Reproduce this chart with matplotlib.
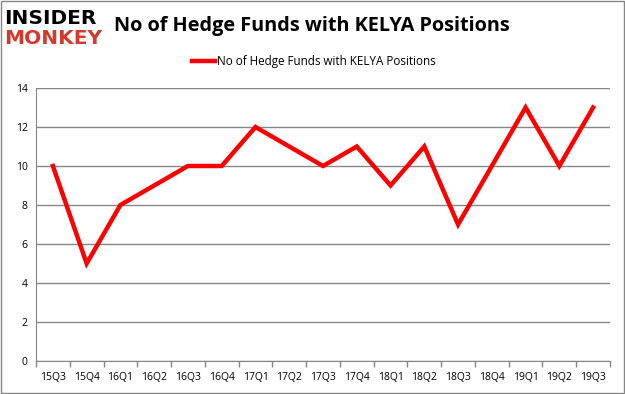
import matplotlib.pyplot as plt
from matplotlib.patches import Rectangle

# data
quarters = ["15Q3", "15Q4", "16Q1", "16Q2", "16Q3", "16Q4", "17Q1", "17Q2", "17Q3",
            "17Q4", "18Q1", "18Q2", "18Q3", "18Q4", "19Q1", "19Q2", "19Q3"]
funds = [10, 5, 8, 9, 10, 10, 12, 11, 10, 11, 9, 11, 7, 10, 13, 10, 13]
y_ticks = [0, 2, 4, 6, 8, 10, 12, 14]
series_name = "No of Hedge Funds with KELYA Positions"

plt.rcParams['font.family'] = ['Open Sans', 'DejaVu Sans']

fig = plt.figure(figsize=(6.25, 3.94), dpi=100)
ax = fig.add_axes([36 / 625, 1 - 361 / 394, 574 / 625, 273 / 394])

x = list(range(len(quarters)))
line, = ax.plot(x, funds, color="#ff0000", lw=3.2, solid_joinstyle="miter",
                label=series_name)

ax.set_xlim(-0.5, len(quarters) - 0.5)
ax.set_ylim(0, 14)
ax.set_yticks(y_ticks)
ax.set_yticklabels([str(v) for v in y_ticks], fontsize=7.5)
ax.yaxis.grid(True, color="#868686", lw=1)
ax.set_axisbelow(True)
ax.tick_params(axis="y", length=0, pad=6)

# category labels centred, tick marks on boundaries
ax.set_xticks(x)
ax.set_xticklabels(quarters, fontsize=7.5)
ax.tick_params(axis="x", which="major", length=0, pad=8)
ax.set_xticks([i - 0.5 for i in range(len(quarters) + 1)], minor=True)
ax.tick_params(axis="x", which="minor", length=4, color="#868686", width=1)

for s in ["top", "right"]:
    ax.spines[s].set_visible(False)
for s in ["left", "bottom"]:
    ax.spines[s].set_color("#868686")

fig.legend(handles=[line], loc="center", bbox_to_anchor=(0.502, 1 - 62 / 394),
           frameon=False, fontsize=8.4, handlelength=2.0, handletextpad=0.1)

fig.text(114 / 625, 1 - 26 / 394, "No of Hedge Funds with KELYA Positions",
         fontsize=14.3, fontweight="bold", va="center", ha="left")

# logo text
fig.text(4 / 625, 1 - 18 / 394, "INSIDER", fontsize=14.5, fontweight="black",
         va="center", ha="left", color="black", family="DejaVu Sans")
fig.text(4 / 625, 1 - 39 / 394, "MONKEY", fontsize=14.5, fontweight="black",
         va="center", ha="left", color="#d33a2c", family="DejaVu Sans")

fig.patches.append(Rectangle((0.0015, 0.0015), 0.997, 0.997, transform=fig.transFigure,
                             fill=False, edgecolor="#868686", lw=1))

fig.savefig("out.png", dpi=100)
